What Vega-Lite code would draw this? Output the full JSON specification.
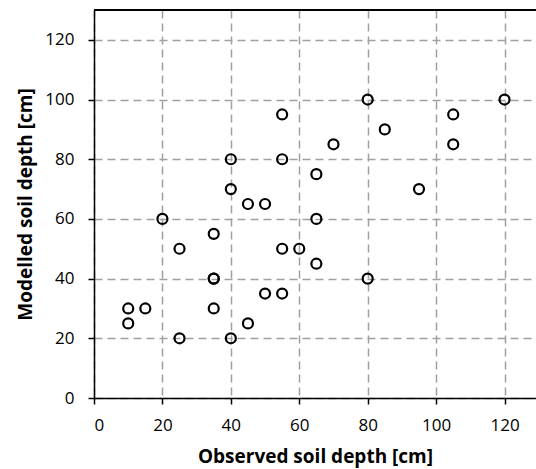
{
  "$schema": "https://vega.github.io/schema/vega-lite/v6.json",
  "width": 442,
  "height": 388,
  "autosize": {"type": "none"},
  "padding": {"left": 94, "top": 10, "right": 0, "bottom": 71},
  "background": "white",
  "config": {
    "view": {"stroke": null},
    "font": "Open Sans"
  },
  "data": {
    "values": [
      {"observed": 55, "modelled": 95},
      {"observed": 70, "modelled": 85},
      {"observed": 40, "modelled": 80},
      {"observed": 55, "modelled": 80},
      {"observed": 65, "modelled": 75},
      {"observed": 40, "modelled": 70},
      {"observed": 80, "modelled": 100},
      {"observed": 120, "modelled": 100},
      {"observed": 105, "modelled": 95},
      {"observed": 85, "modelled": 90},
      {"observed": 105, "modelled": 85},
      {"observed": 95, "modelled": 70},
      {"observed": 45, "modelled": 65},
      {"observed": 50, "modelled": 65},
      {"observed": 20, "modelled": 60},
      {"observed": 65, "modelled": 60},
      {"observed": 35, "modelled": 55},
      {"observed": 25, "modelled": 50},
      {"observed": 55, "modelled": 50},
      {"observed": 60, "modelled": 50},
      {"observed": 65, "modelled": 45},
      {"observed": 35, "modelled": 40},
      {"observed": 35, "modelled": 40},
      {"observed": 80, "modelled": 40},
      {"observed": 50, "modelled": 35},
      {"observed": 55, "modelled": 35},
      {"observed": 10, "modelled": 30},
      {"observed": 15, "modelled": 30},
      {"observed": 35, "modelled": 30},
      {"observed": 10, "modelled": 25},
      {"observed": 45, "modelled": 25},
      {"observed": 25, "modelled": 20},
      {"observed": 40, "modelled": 20}
    ]
  },
  "layer": [
    {
      "mark": {"type": "point", "shape": "circle", "filled": false, "stroke": "black", "strokeWidth": 2.2, "size": 100, "opacity": 1},
      "encoding": {
        "x": {
          "field": "observed", "type": "quantitative",
          "scale": {"domain": [0, 129.2], "nice": false, "zero": false},
          "axis": {
            "title": "Observed soil depth [cm]",
            "values": [0, 20, 40, 60, 80, 100, 120],
            "grid": true, "gridColor": "#a0a0a0", "gridDash": [8, 5], "gridWidth": 1.5,
            "domainColor": "black", "domainWidth": 1.5,
            "tickColor": "black", "tickSize": 6, "tickWidth": 1.5,
            "labelFontSize": 17, "labelColor": "black", "labelPadding": 13,
            "titleFontSize": 19, "titleFontWeight": "bold", "titleColor": "black", "titlePadding": 14
          }
        },
        "y": {
          "field": "modelled", "type": "quantitative",
          "scale": {"domain": [0, 130], "nice": false},
          "axis": {
            "title": "Modelled soil depth [cm]",
            "values": [0, 20, 40, 60, 80, 100, 120],
            "grid": true, "gridColor": "#a0a0a0", "gridDash": [8, 5], "gridWidth": 1.5,
            "domainColor": "black", "domainWidth": 1.5,
            "tickColor": "black", "tickSize": 6, "tickWidth": 1.5,
            "labelFontSize": 17, "labelColor": "black", "labelPadding": 14,
            "titleFontSize": 19, "titleFontWeight": "bold", "titleColor": "black", "titlePadding": 9
          }
        }
      }
    },
    {
      "mark": {"type": "rule", "color": "black", "strokeWidth": 1.5},
      "encoding": {
        "y": {"datum": 130, "type": "quantitative"}
      }
    }
  ]
}
